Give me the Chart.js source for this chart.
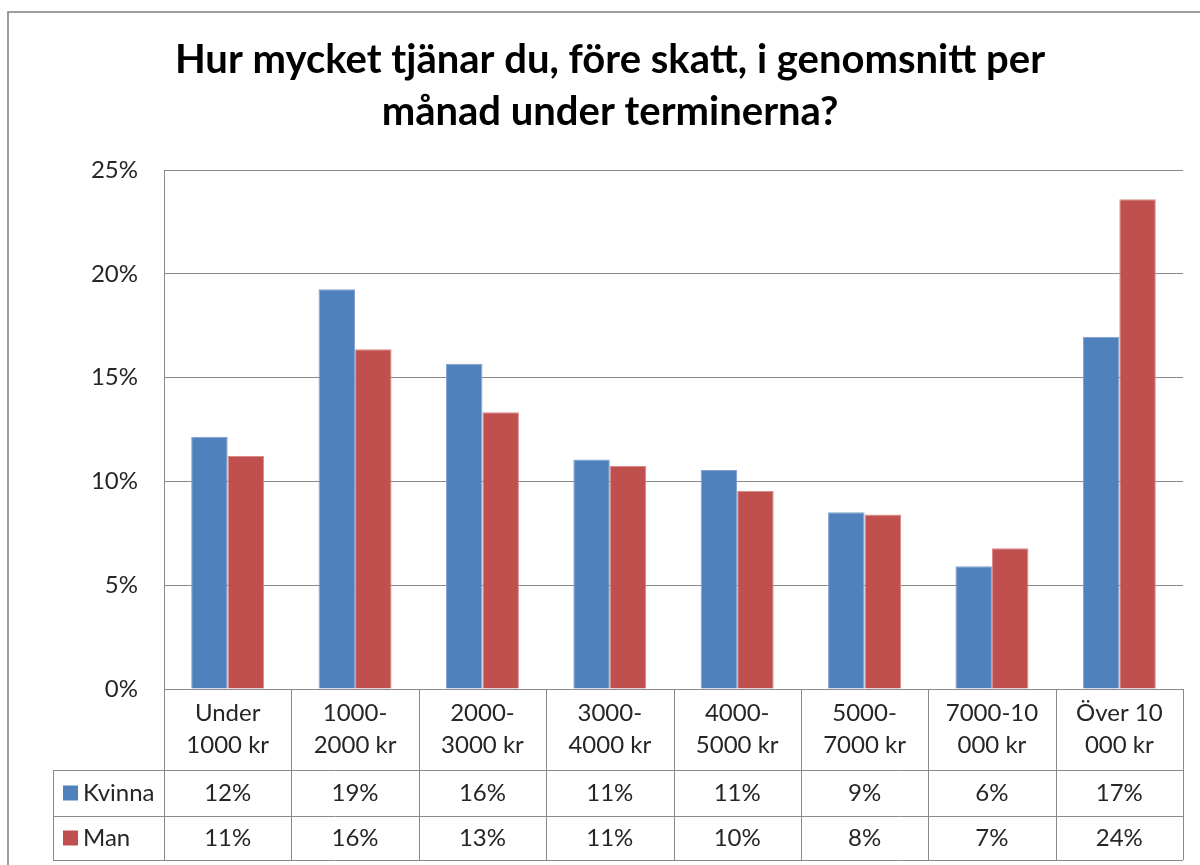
<!DOCTYPE html>
<html>
<head>
<meta charset="utf-8">
<script src="https://cdn.jsdelivr.net/npm/chart.js@4/dist/chart.umd.min.js"></script>
<style>
  html, body { margin: 0; padding: 0; background: #ffffff; }
  #wrap { width: 1200px; height: 865px; }
</style>
</head>
<body>
<div id="wrap"><canvas id="c" width="1200" height="865"></canvas></div>
<script>
const titleLines = ['Hur mycket tjänar du, före skatt, i genomsnitt per', 'månad under terminerna?'];
const categories = [
  ['Under', '1000 kr'], ['1000-', '2000 kr'], ['2000-', '3000 kr'], ['3000-', '4000 kr'],
  ['4000-', '5000 kr'], ['5000-', '7000 kr'], ['7000-10', '000 kr'], ['Över 10', '000 kr']
];
const seriesNames = ['Kvinna', 'Man'];
const kvinna = [12.15, 19.25, 15.67, 11.05, 10.55, 8.51, 5.91, 16.97];
const man = [11.22, 16.36, 13.33, 10.74, 9.55, 8.40, 6.78, 23.59];
const yTicks = [0, 5, 10, 15, 20, 25];

const FONT = 'Lato, "Open Sans", sans-serif';
const TEXT = '#262626';
const LINE = '#8a8a8a';
const colors = ['#4F81BD', '#C0504D'];
const borders = ['#7EA1D0', '#D98A88'];

const frame = {
  id: 'frame',
  beforeDraw(chart) {
    const ctx = chart.ctx;
    ctx.save();
    ctx.strokeStyle = '#868686';
    ctx.lineWidth = 1.6;
    ctx.strokeRect(8, 12, 1300, 1000);
    ctx.restore();
  }
};

const dataTable = {
  id: 'dataTable',
  afterDraw(chart) {
    const ctx = chart.ctx;
    const xs = chart.scales.x;
    const area = chart.chartArea;
    const n = chart.data.labels.length;
    const catW = (xs.right - xs.left) / n;
    const top = area.bottom;
    const r1 = top + 81, r2 = r1 + 46, r3 = r2 + 44;
    const tableLeft = 53;
    ctx.save();
    ctx.strokeStyle = LINE;
    ctx.lineWidth = 1;
    ctx.beginPath();
    [r1, r2, r3].forEach(y => { ctx.moveTo(tableLeft, y + 0.5); ctx.lineTo(xs.right, y + 0.5); });
    ctx.moveTo(tableLeft + 0.5, r1); ctx.lineTo(tableLeft + 0.5, r3);
    for (let i = 0; i <= n; i++) {
      const x = Math.round(xs.left + i * catW) + 0.5;
      ctx.moveTo(x, top); ctx.lineTo(x, r3);
    }
    ctx.stroke();

    const rows = [[r1, r2], [r2, r3]];
    ctx.font = '24px ' + FONT;
    ctx.textBaseline = 'middle';
    chart.data.datasets.forEach((ds, di) => {
      const yc = (rows[di][0] + rows[di][1]) / 2;
      ctx.fillStyle = ds.backgroundColor;
      ctx.fillRect(63, yc - 7.5, 15, 15);
      ctx.fillStyle = TEXT;
      ctx.textAlign = 'left';
      ctx.fillText(ds.label, 83, yc);
      ctx.textAlign = 'center';
      ds.data.forEach((v, i) => {
        ctx.fillText(Math.round(v) + '%', xs.getPixelForValue(i), yc);
      });
    });
    ctx.restore();
  }
};

new Chart(document.getElementById('c'), {
  type: 'bar',
  data: {
    labels: categories,
    datasets: [
      { label: seriesNames[0], data: kvinna, backgroundColor: colors[0], borderColor: borders[0], borderWidth: 1 },
      { label: seriesNames[1], data: man, backgroundColor: colors[1], borderColor: borders[1], borderWidth: 1 }
    ]
  },
  options: {
    responsive: false,
    animation: false,
    devicePixelRatio: 1,
    layout: { padding: { left: 37, right: 17, top: 0, bottom: 0 } },
    datasets: { bar: { categoryPercentage: 0.573, barPercentage: 1.0 } },
    plugins: {
      legend: { display: false },
      tooltip: { enabled: false },
      title: {
        display: true,
        text: titleLines,
        color: '#000000',
        font: { family: FONT, size: 40, weight: 'bold', lineHeight: 52 / 40 },
        padding: { top: 34, bottom: 32 }
      }
    },
    scales: {
      x: {
        grid: { display: false, drawTicks: false },
        border: { display: true, color: LINE, width: 1 },
        ticks: {
          color: TEXT, autoSkip: false, maxRotation: 0, minRotation: 0, padding: 8,
          font: { family: FONT, size: 24, lineHeight: 32 / 24 }
        },
        afterFit(scale) { scale.height = 176; }
      },
      y: {
        min: 0, max: 25,
        afterBuildTicks(scale) { scale.ticks = yTicks.map(v => ({ value: v })); },
        grid: { color: LINE, lineWidth: 1, drawTicks: false },
        border: { display: true, color: LINE, width: 1 },
        ticks: {
          color: TEXT, padding: 26,
          font: { family: FONT, size: 24 },
          callback: v => v + '%'
        },
        afterFit(scale) { scale.width = 127; }
      }
    }
  },
  plugins: [frame, dataTable]
});
</script>
</body>
</html>
